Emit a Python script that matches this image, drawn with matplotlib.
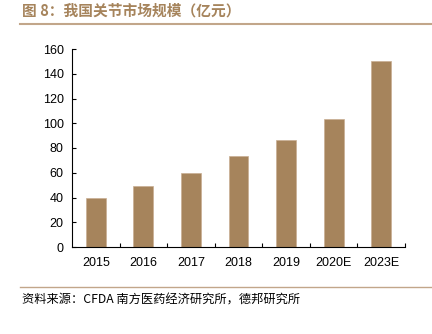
import numpy as np
import matplotlib.pyplot as plt
from matplotlib.lines import Line2D

plt.rcParams['font.family'] = ['Noto Sans CJK SC', 'DejaVu Sans']

years = ["2015", "2016", "2017", "2018", "2019", "2020E", "2023E"]
market = [40, 49, 60, 73.5, 86.5, 103.5, 150]

bar_color = "#A6845C"
title_color = "#A6845C"
rule_color = "#C2A68A"

fig = plt.figure(figsize=(4.32, 3.34), dpi=100)
ax = fig.add_axes([72/432, 1 - 247/334, (405-72)/432, (247-49)/334])

x = np.arange(len(years))
ax.bar(x, market, width=0.42, color=bar_color, edgecolor="#C8AE92", linewidth=0.5)
ax.set_xlim(-0.5, len(years) - 0.5)
ax.set_ylim(0, 160)
ax.set_yticks(range(0, 161, 20))
ax.set_xticks(x)
ax.set_xticklabels(years, family=['Liberation Sans', 'DejaVu Sans'], fontsize=9)
for lab in ax.get_yticklabels():
    lab.set_family(['Liberation Sans', 'DejaVu Sans'])
    lab.set_fontsize(9)
ax.tick_params(axis='x', length=0, pad=7)
ax.tick_params(axis='y', direction='in', length=3, width=0.8, pad=6)
ax.set_xticks(np.arange(0.5, len(years) - 0.5 + 0.01, 1.0), minor=True)
ax.tick_params(axis='x', which='minor', direction='in', length=3, width=0.8)
ax.spines['top'].set_visible(False)
ax.spines['right'].set_visible(False)
ax.spines['left'].set_linewidth(0.8)
ax.spines['bottom'].set_linewidth(0.8)

fig.text(22/432, 1 - 11/334, "图 8：我国关节市场规模（亿元）", color=title_color,
         fontsize=10.6, fontweight='bold', va='center', ha='left')
fig.add_artist(Line2D([20/432, 1.0], [1 - 23.5/334, 1 - 23.5/334], color=rule_color, linewidth=1.5))
fig.add_artist(Line2D([20/432, 1.0], [1 - 287/334, 1 - 287/334], color=rule_color, linewidth=1.0))
fig.text(22/432, 1 - 300/334, "资料来源：CFDA 南方医药经济研究所，德邦研究所", color="black",
         fontsize=8.8, va='center', ha='left')

fig.savefig("out.png", dpi=100)
